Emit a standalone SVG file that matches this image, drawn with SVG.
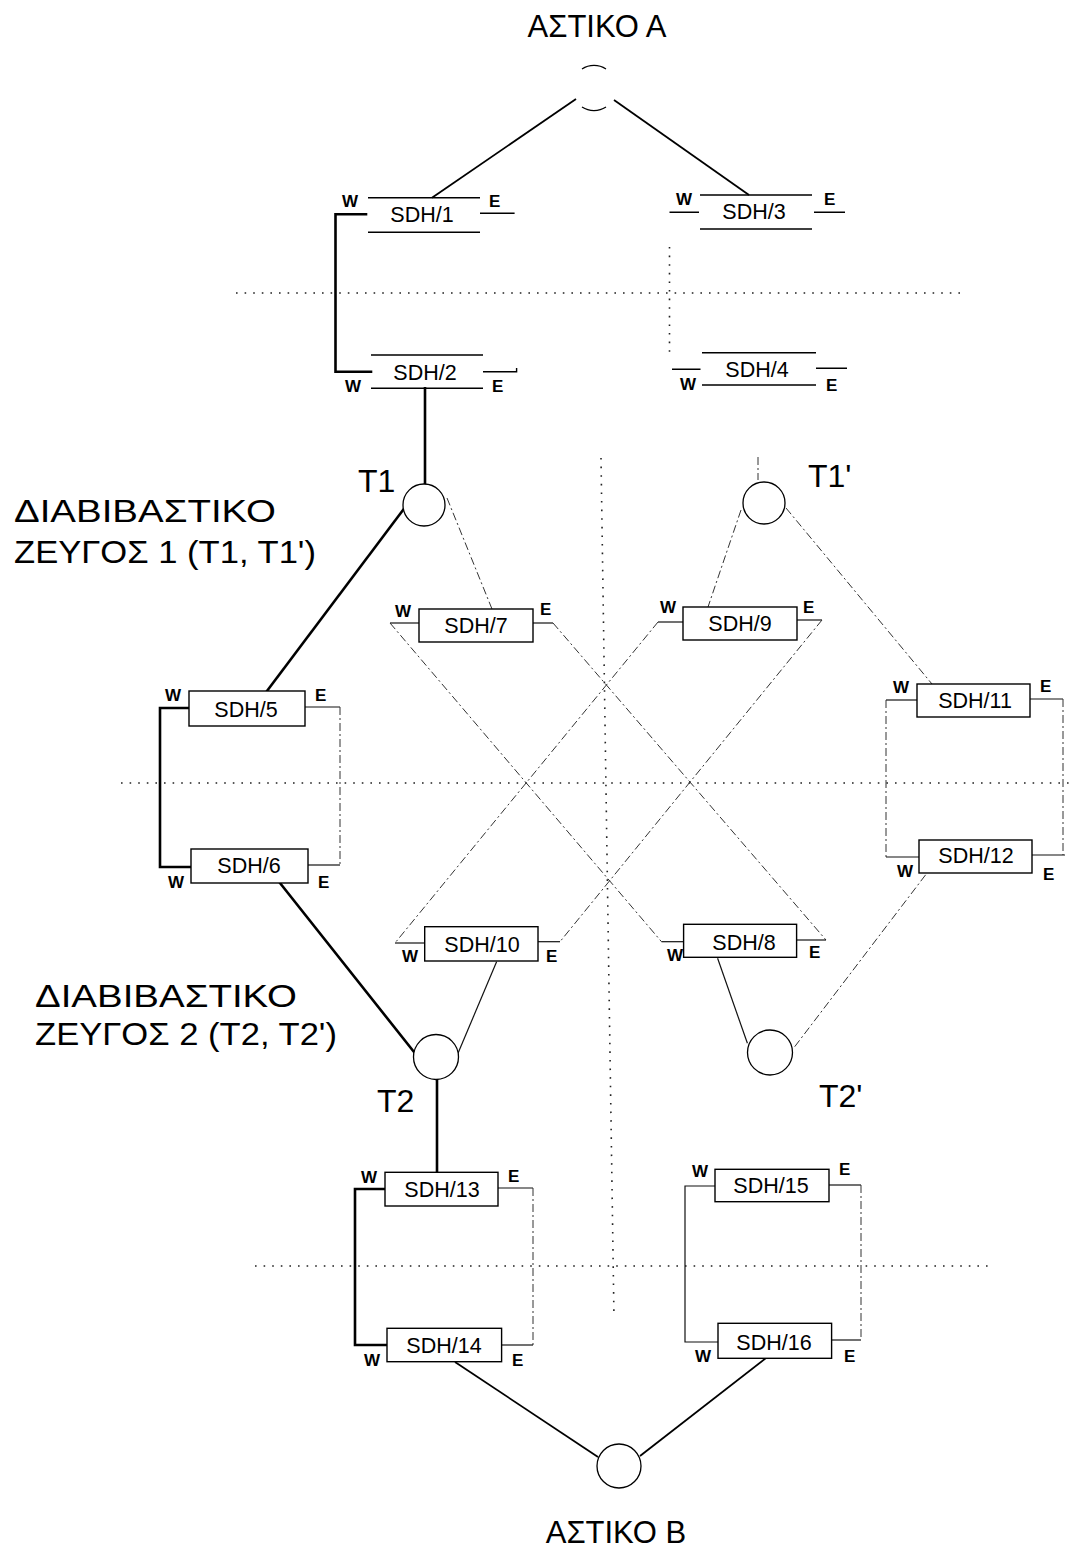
<svg xmlns="http://www.w3.org/2000/svg" width="1078" height="1551" viewBox="0 0 1078 1551">
<style>
.bg{fill:#fff}
.thick{stroke:#000;stroke-width:2.6;fill:none;stroke-linecap:square}
.solid{stroke:#000;stroke-width:1.8;fill:none}
.thin{stroke:#111;stroke-width:1.2;fill:none}
.dash{stroke:#333;stroke-width:1;fill:none;stroke-dasharray:8 3 2 3}
.dot{stroke:#222;stroke-width:1.6;fill:none;stroke-dasharray:1.6 7}
.box{fill:#fff;stroke:#000;stroke-width:1.4}
.edge{stroke:#000;stroke-width:1.4;fill:none}
.node{fill:#fff;stroke:#000;stroke-width:1.3}
text{font-family:"Liberation Sans",Arial,sans-serif;fill:#000}
.sdh{font-size:21.5px;text-anchor:middle}
.we{font-size:17px;font-weight:bold}
.big{font-size:31px}
.tl{font-size:32px}
</style>
<rect class="bg" x="0" y="0" width="1078" height="1551"/>

<g id="guides">
<path class="dot" d="M236 293 H965"/>
<path class="dot" d="M121 783 H1073"/>
<path class="dot" d="M255 1266 H990"/>
<path class="dot" d="M601 458 L614 1318"/>
<path class="dot" d="M669.5 247 V357"/>
</g>

<g id="connectors">
<path class="solid" d="M576 99 L432 197.7"/>
<path class="solid" d="M614 100 L749 195"/>
<path class="thick" d="M366 214.3 H335.5 V371.7 H371"/>
<path class="thick" d="M425 388.3 V484"/>
<path class="thick" d="M403 510 L267 691"/>
<path class="dash" d="M447 498 L492 609"/>
<path class="thick" d="M189 708 H160 V867 H191"/>
<path class="thin" d="M305 707 H340"/>
<path class="dash" d="M340 707 V865"/>
<path class="thin" d="M308 865 H340"/>
<path class="thick" d="M280 883 L414 1052"/>
<path class="dash" d="M758 457 V480"/>
<path class="dash" d="M741 510 L708 607"/>
<path class="dash" d="M786 508 L932 684"/>
<path class="thin" d="M419 623 H390"/>
<path class="dash" d="M390 623 L661.5 941.7"/>
<path class="thin" d="M661.5 941.7 H683.6"/>
<path class="thin" d="M533 623 H553"/>
<path class="dash" d="M553 623 L826 940"/>
<path class="thin" d="M796.5 940 H826"/>
<path class="thin" d="M683 622 H658"/>
<path class="dash" d="M658 622 L395 943"/>
<path class="thin" d="M395 943 H424.7"/>
<path class="thin" d="M797 620 H822"/>
<path class="dash" d="M822 620 L560 941.7"/>
<path class="thin" d="M538 941.7 H560"/>
<path class="thin" d="M496.6 961.7 L458 1053.3"/>
<path class="thin" d="M717.6 958.3 L747.4 1043.3"/>
<path class="dash" d="M794.7 1046.7 L927 873"/>
<path class="thin" d="M917 700 H886"/>
<path class="dash" d="M886 700 V857"/>
<path class="thin" d="M886 857 H919"/>
<path class="thin" d="M1030 699 H1063"/>
<path class="dash" d="M1063 699 V855"/>
<path class="thin" d="M1032 855 H1065"/>
<path class="thick" d="M437 1080 V1172"/>
<path class="thick" d="M385 1189 H355 V1345 H387"/>
<path class="thin" d="M498 1188 H533"/>
<path class="dash" d="M533 1188 V1345"/>
<path class="thin" d="M502 1345 H533"/>
<path class="solid" d="M455 1362 L598 1457"/>
<path class="thin" d="M715 1186 H685 V1342 H718"/>
<path class="thin" d="M829 1185 H861"/>
<path class="dash" d="M861 1185 V1340"/>
<path class="thin" d="M832 1340 H861"/>
<path class="solid" d="M766 1358 L640 1456"/>
</g>

<g id="astikoA">
<path class="node" style="fill:none" d="M582 69 A22 22 0 0 1 606 69 M582 107 A22 22 0 0 0 606 107"/>
<text class="big" x="597" y="37" text-anchor="middle">ΑΣΤΙΚΟ Α</text>
</g>
<g id="astikoB">
<circle class="node" cx="619" cy="1466" r="22"/>
<text class="big" x="616" y="1543" text-anchor="middle">ΑΣΤΙΚΟ Β</text>
</g>
<g id="T1">
<circle class="node" cx="424" cy="505" r="21"/>
<text class="tl" x="358" y="492">T1</text>
</g>
<g id="T1p">
<circle class="node" cx="764" cy="503" r="21"/>
<text class="tl" x="808" y="487">T1'</text>
</g>
<g id="T2">
<circle class="node" cx="436" cy="1057" r="22.5"/>
<text class="tl" x="377" y="1112">T2</text>
</g>
<g id="T2p">
<circle class="node" cx="770" cy="1052.5" r="22.5"/>
<text class="tl" x="819" y="1107">T2'</text>
</g>

<g id="pair1">
<text class="big" x="14" y="522" textLength="262" lengthAdjust="spacingAndGlyphs">ΔΙΑΒΙΒΑΣΤΙΚΟ</text>
<text class="big" x="14" y="563" textLength="302" lengthAdjust="spacingAndGlyphs">ΖΕΥΓΟΣ 1 (Τ1, Τ1')</text>
</g>
<g id="pair2">
<text class="big" x="35" y="1007" textLength="262" lengthAdjust="spacingAndGlyphs">ΔΙΑΒΙΒΑΣΤΙΚΟ</text>
<text class="big" x="35" y="1045" textLength="302" lengthAdjust="spacingAndGlyphs">ΖΕΥΓΟΣ 2 (Τ2, Τ2')</text>
</g>

<g id="sdh1">
<path class="edge" d="M368 197.7 H480 M368 232.3 H480 M480 213.3 H514.6"/>
<text class="sdh" x="422" y="222">SDH/1</text>
<text class="we" x="342" y="207">W</text><text class="we" x="489" y="207">E</text>
</g>
<g id="sdh2">
<path class="edge" d="M371 355 H483 M371 388.3 H483 M483 371.7 H516.6 V368"/>
<text class="sdh" x="425" y="380">SDH/2</text>
<text class="we" x="345" y="392">W</text><text class="we" x="492" y="392">E</text>
</g>
<g id="sdh3">
<path class="edge" d="M700 195 H812 M700 229 H812 M669.5 212.3 H699 M814 212.3 H845"/>
<text class="sdh" x="754" y="219">SDH/3</text>
<text class="we" x="676" y="205">W</text><text class="we" x="824" y="205">E</text>
</g>
<g id="sdh4">
<path class="edge" d="M702 352.7 H816 M702 385 H816 M672 369.3 H700.5 M816 368.3 H847"/>
<text class="sdh" x="757" y="377">SDH/4</text>
<text class="we" x="680" y="390">W</text><text class="we" x="826" y="391">E</text>
</g>
<g id="sdh5">
<rect class="box" x="189" y="691" width="116" height="35"/>
<text class="sdh" x="246" y="717">SDH/5</text>
<text class="we" x="165" y="701">W</text><text class="we" x="315" y="701">E</text>
</g>
<g id="sdh6">
<rect class="box" x="191" y="849" width="117" height="34"/>
<text class="sdh" x="249" y="873">SDH/6</text>
<text class="we" x="168" y="888">W</text><text class="we" x="318" y="888">E</text>
</g>
<g id="sdh7">
<rect class="box" x="419" y="609" width="114" height="33"/>
<text class="sdh" x="476" y="633">SDH/7</text>
<text class="we" x="395" y="617">W</text><text class="we" x="540" y="615">E</text>
</g>
<g id="sdh8">
<rect class="box" x="683.6" y="924.3" width="113" height="33"/>
<text class="sdh" x="744" y="950">SDH/8</text>
<text class="we" x="667" y="961">W</text><text class="we" x="809" y="958">E</text>
</g>
<g id="sdh9">
<rect class="box" x="683" y="607" width="114" height="33"/>
<text class="sdh" x="740" y="631">SDH/9</text>
<text class="we" x="660" y="613">W</text><text class="we" x="803" y="613">E</text>
</g>
<g id="sdh10">
<rect class="box" x="424.7" y="926.7" width="113.3" height="34.3"/>
<text class="sdh" x="482" y="952">SDH/10</text>
<text class="we" x="402" y="962">W</text><text class="we" x="546" y="962">E</text>
</g>
<g id="sdh11">
<rect class="box" x="917" y="684" width="113" height="33"/>
<text class="sdh" x="975" y="708">SDH/11</text>
<text class="we" x="893" y="693">W</text><text class="we" x="1040" y="692">E</text>
</g>
<g id="sdh12">
<rect class="box" x="919" y="840" width="113" height="33"/>
<text class="sdh" x="976" y="863">SDH/12</text>
<text class="we" x="897" y="877">W</text><text class="we" x="1043" y="880">E</text>
</g>
<g id="sdh13">
<rect class="box" x="385" y="1172.3" width="113" height="33.7"/>
<text class="sdh" x="442" y="1197">SDH/13</text>
<text class="we" x="361" y="1183">W</text><text class="we" x="508" y="1182">E</text>
</g>
<g id="sdh14">
<rect class="box" x="387" y="1328.3" width="114.6" height="33.4"/>
<text class="sdh" x="444" y="1353">SDH/14</text>
<text class="we" x="364" y="1366">W</text><text class="we" x="512" y="1366">E</text>
</g>
<g id="sdh15">
<rect class="box" x="715" y="1169.3" width="114" height="32.4"/>
<text class="sdh" x="771" y="1193">SDH/15</text>
<text class="we" x="692" y="1177">W</text><text class="we" x="839" y="1175">E</text>
</g>
<g id="sdh16">
<rect class="box" x="718" y="1323.3" width="113.6" height="35"/>
<text class="sdh" x="774" y="1350">SDH/16</text>
<text class="we" x="695" y="1362">W</text><text class="we" x="844" y="1362">E</text>
</g>
</svg>
